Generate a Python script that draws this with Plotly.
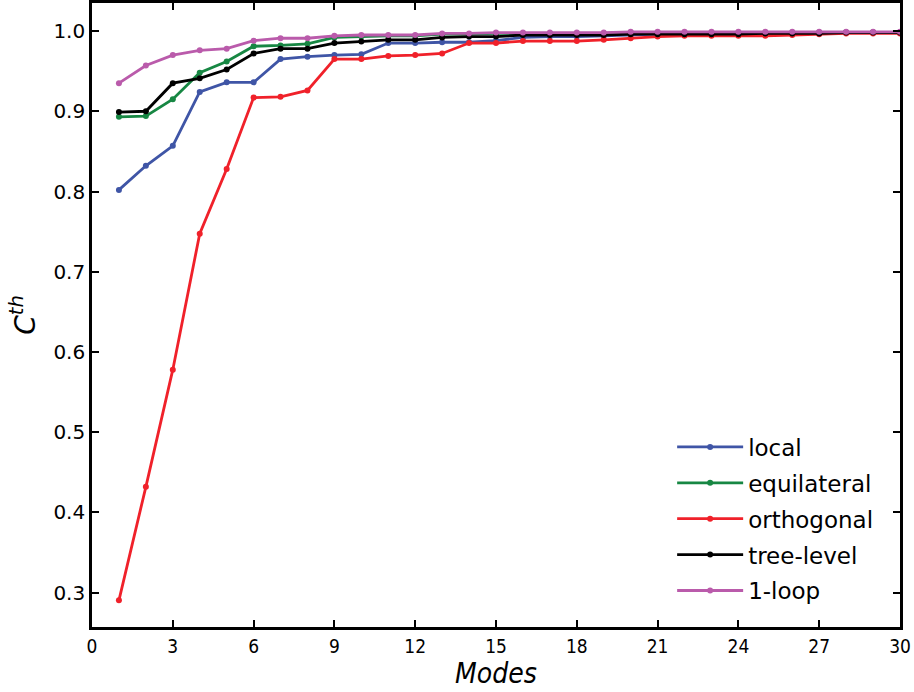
import plotly.graph_objects as go

modes = list(range(1, 31))

local = [0.802, 0.832, 0.857, 0.924, 0.936, 0.936, 0.965, 0.968, 0.970, 0.971,
         0.985, 0.985, 0.986, 0.986, 0.988, 0.992, 0.993, 0.993, 0.994, 0.995,
         0.996, 0.996, 0.996, 0.997, 0.997, 0.997, 0.998, 0.998, 0.998, 0.998]
equilateral = [0.893, 0.894, 0.915, 0.948, 0.962, 0.981, 0.982, 0.984, 0.992, 0.993,
               0.994, 0.994, 0.996, 0.996, 0.997, 0.997, 0.997, 0.997, 0.997, 0.998,
               0.998, 0.998, 0.998, 0.998, 0.998, 0.998, 0.998, 0.998, 0.998, 0.998]
orthogonal = [0.2905, 0.432, 0.578, 0.7475, 0.828, 0.917, 0.918, 0.926, 0.965, 0.965,
              0.969, 0.970, 0.972, 0.985, 0.985, 0.9875, 0.9875, 0.9875, 0.989, 0.991,
              0.993, 0.994, 0.994, 0.994, 0.994, 0.995, 0.996, 0.997, 0.997, 0.997]
tree_level = [0.899, 0.900, 0.935, 0.941, 0.952, 0.972, 0.978, 0.978, 0.985, 0.987,
              0.989, 0.989, 0.992, 0.993, 0.993, 0.995, 0.995, 0.995, 0.995, 0.996,
              0.996, 0.996, 0.996, 0.996, 0.997, 0.997, 0.997, 0.998, 0.998, 0.998]
one_loop = [0.935, 0.957, 0.970, 0.976, 0.978, 0.988, 0.991, 0.991, 0.994, 0.995,
            0.995, 0.995, 0.997, 0.997, 0.998, 0.998, 0.998, 0.998, 0.998, 0.999,
            0.999, 0.999, 0.999, 0.999, 0.999, 0.999, 0.999, 0.999, 0.999, 0.999]

series = [
    ("local", local, "#3F55A6"),
    ("equilateral", equilateral, "#178743"),
    ("orthogonal", orthogonal, "#F0212A"),
    ("tree-level", tree_level, "#000000"),
    ("1-loop", one_loop, "#BA5BAB"),
]

x_ticks = list(range(0, 31, 3))
y_ticks = [0.3, 0.4, 0.5, 0.6, 0.7, 0.8, 0.9, 1.0]

fig = go.Figure()
for name, vals, color in series:
    fig.add_trace(go.Scatter(
        x=modes, y=vals, name=name, mode="lines+markers",
        line=dict(color=color, width=2.8),
        marker=dict(color=color, size=6),
        legendgroup=name,
    ))

axis_common = dict(
    showline=True, linecolor="black", linewidth=2.6, mirror="ticks",
    ticks="inside", ticklen=7, tickwidth=1.5, tickcolor="black",
    showgrid=False, zeroline=False, automargin=False,
)

fig.update_xaxes(
    range=[0, 30], tickvals=x_ticks, ticktext=[str(t) for t in x_ticks],
    tickfont=dict(family="DejaVu Sans Condensed, DejaVu Sans", size=19, color="black"),
    title=dict(text="<i>Modes</i>",
               font=dict(family="DejaVu Sans Condensed, DejaVu Sans", size=28, color="black"),
               standoff=6),
    **axis_common,
)
fig.update_yaxes(
    range=[0.2573, 1.0349], tickvals=y_ticks, ticktext=[f"{t:.1f}" for t in y_ticks],
    tickfont=dict(family="DejaVu Sans", size=20, color="black"),
    title=dict(text="<i>C<sup>th</sup></i>",
               font=dict(family="DejaVu Sans", size=28, color="black"), standoff=10),
    **axis_common,
)

fig.update_layout(
    width=914, height=692,
    margin=dict(l=92, r=14, t=3, b=65),
    paper_bgcolor="white", plot_bgcolor="white",
    showlegend=True,
    legend=dict(
        x=0.718, y=0.323, xanchor="left", yanchor="top",
        font=dict(family="DejaVu Sans", size=23, color="black"),
        bgcolor="rgba(0,0,0,0)", tracegroupgap=3,
        itemwidth=66,
    ),
)

fig.write_html("out.html")
